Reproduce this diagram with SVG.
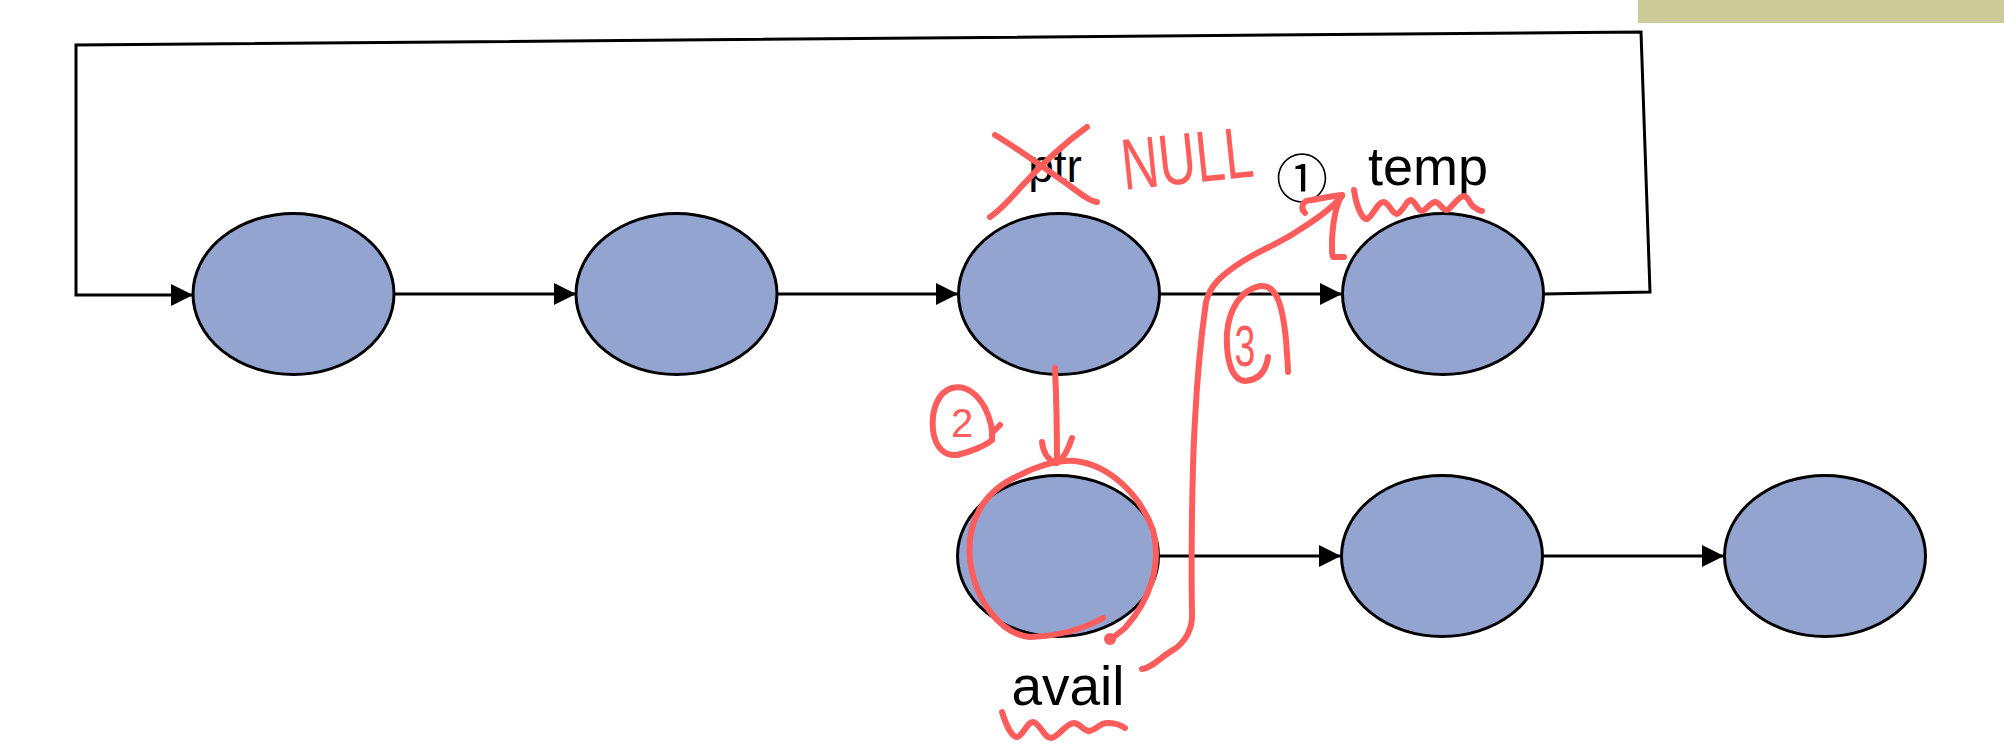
<svg xmlns="http://www.w3.org/2000/svg" width="2004" height="752" viewBox="0 0 2004 752">
  <style>
    .node { fill: #94A4D0; stroke: #000; stroke-width: 3; }
    .edge { fill: none; stroke: #000; stroke-width: 3; }
    .lbl { font-family: "Liberation Sans", Arial, sans-serif; fill: #000; text-anchor: middle; }
    .ink { fill: none; stroke: #FF5C5C; stroke-width: 6; stroke-linecap: round; stroke-linejoin: round; }
    .inktxt { font-family: "Liberation Sans", Arial, sans-serif; fill: #FF5C5C; }
  </style>
  <defs>
    <marker id="arr" viewBox="0 0 22 22" refX="22" refY="11" markerWidth="22" markerHeight="22" markerUnits="userSpaceOnUse" orient="auto">
      <path d="M0,0 L22,11 L0,22 Z" fill="#000"/>
    </marker>
  </defs>
  <rect id="bar" x="1638" y="0" width="366" height="23" fill="#CCCC99"/>

  <g id="connectors">
    <polyline class="edge" points="1544,294 1650,292 1641,32 76,45 76,295 193,295" marker-end="url(#arr)"/>
    <line class="edge" x1="394" y1="294" x2="576" y2="294" marker-end="url(#arr)"/>
    <line class="edge" x1="777" y1="294" x2="958" y2="294" marker-end="url(#arr)"/>
    <line class="edge" x1="1160" y1="294" x2="1342" y2="294" marker-end="url(#arr)"/>
    <line class="edge" x1="1159" y1="556" x2="1341" y2="556" marker-end="url(#arr)"/>
    <line class="edge" x1="1543" y1="556" x2="1724" y2="556" marker-end="url(#arr)"/>
  </g>

  <g id="node1"><ellipse class="node" cx="293.5" cy="294" rx="100.5" ry="80.5"/></g>
  <g id="node2"><ellipse class="node" cx="676.5" cy="294" rx="100.5" ry="80.5"/></g>
  <g id="node3"><ellipse class="node" cx="1059" cy="294" rx="100.5" ry="80.5"/></g>
  <g id="node4"><ellipse class="node" cx="1443" cy="294" rx="100.5" ry="80.5"/></g>
  <g id="node5"><ellipse class="node" cx="1058" cy="556" rx="100.5" ry="80.5"/></g>
  <g id="node6"><ellipse class="node" cx="1442" cy="556" rx="100.5" ry="80.5"/></g>
  <g id="node7"><ellipse class="node" cx="1825" cy="556" rx="100.5" ry="80.5"/></g>

  <g id="label-ptr"><text class="lbl" x="1055" y="182" font-size="46">ptr</text></g>
  <g id="label-temp"><text class="lbl" x="1428" y="185" font-size="54">temp</text></g>
  <g id="label-avail"><text class="lbl" x="1068" y="705" font-size="55">avail</text></g>
  <g id="label-step1"><text x="1302" y="198" font-size="52" text-anchor="middle" font-family="'Noto Sans CJK JP', sans-serif" fill="#000">①</text></g>

  <g id="annotations">
    <path class="ink" d="M995,135 C1020,150 1050,172 1070,186 C1082,195 1090,201 1097,202"/>
    <path class="ink" d="M1087,127 C1062,145 1040,166 1020,188 C1006,204 996,213 990,217"/>
    <text class="inktxt" font-size="50" transform="translate(1124,190) rotate(-6) scale(1,1.45)" textLength="132" lengthAdjust="spacingAndGlyphs">NULL</text>

    <path class="ink" d="M1354,190 C1356,205 1362,220 1367,219 C1373,216 1378,201 1384,202 C1390,204 1392,214 1397,214 C1403,212 1407,199 1411,200 C1416,202 1418,211 1422,211 C1427,210 1431,201 1436,202 C1441,204 1443,211 1447,210 C1452,208 1458,196 1464,196 C1469,197 1470,205 1474,207 C1477,209 1480,211 1482,211"/>

    <path class="ink" d="M1142,669 C1152,668 1162,656 1173,650 C1186,642 1193,628 1192,612 C1191,560 1192,470 1195,420 C1197,380 1202,330 1206,302 C1210,285 1222,275 1240,263 C1260,250 1280,243 1296,232 C1315,220 1330,210 1342,196"/>
    <path class="ink" d="M1305,213 C1300,208 1302,200 1312,200 C1322,198 1332,196 1342,195"/>
    <path class="ink" d="M1342,195 C1336,205 1333,220 1332,240 C1332,250 1332,256 1333,257 L1344,257"/>

    <path class="ink" d="M1268,357 C1266,372 1258,380 1245,381 C1230,380 1226,355 1227,333 C1229,310 1240,290 1260,286 C1278,284 1283,310 1286,340 C1287,355 1288,365 1288,372"/>
    <text class="inktxt" font-size="44" text-anchor="middle" transform="translate(1245,366) scale(0.85,1.3)">3</text>

    <path class="ink" d="M992,440 C985,446 970,452 957,455 C945,456 935,448 933,430 C931,410 938,392 952,388 C966,384 978,395 985,408 C990,418 993,428 992,440 M992,433 L1000,425"/>
    <text class="inktxt" x="962" y="437" font-size="40" text-anchor="middle">2</text>

    <path class="ink" d="M1055,368 C1056,390 1057,420 1057,463"/>
    <path class="ink" d="M1042,442 C1043,452 1048,460 1056,463"/>
    <path class="ink" d="M1072,438 C1068,450 1064,458 1058,462"/>

    <path class="ink" d="M1103,618 C1085,628 1060,636 1030,637 C1000,634 975,600 970,560 C966,520 985,490 1020,475 C1040,465 1060,460 1075,461 C1110,465 1140,495 1153,530 C1162,565 1150,600 1125,628 L1110,640"/>
    <circle cx="1110" cy="639" r="6" fill="#FF5C5C"/>

    <path class="ink" d="M1002,712 C1006,725 1012,737 1017,737 C1023,736 1027,722 1033,722 C1040,723 1044,738 1051,738 C1059,737 1066,723 1074,723 C1081,724 1083,731 1089,731 C1096,730 1100,723 1107,723 C1115,723 1121,725 1125,728"/>
  </g>
</svg>
